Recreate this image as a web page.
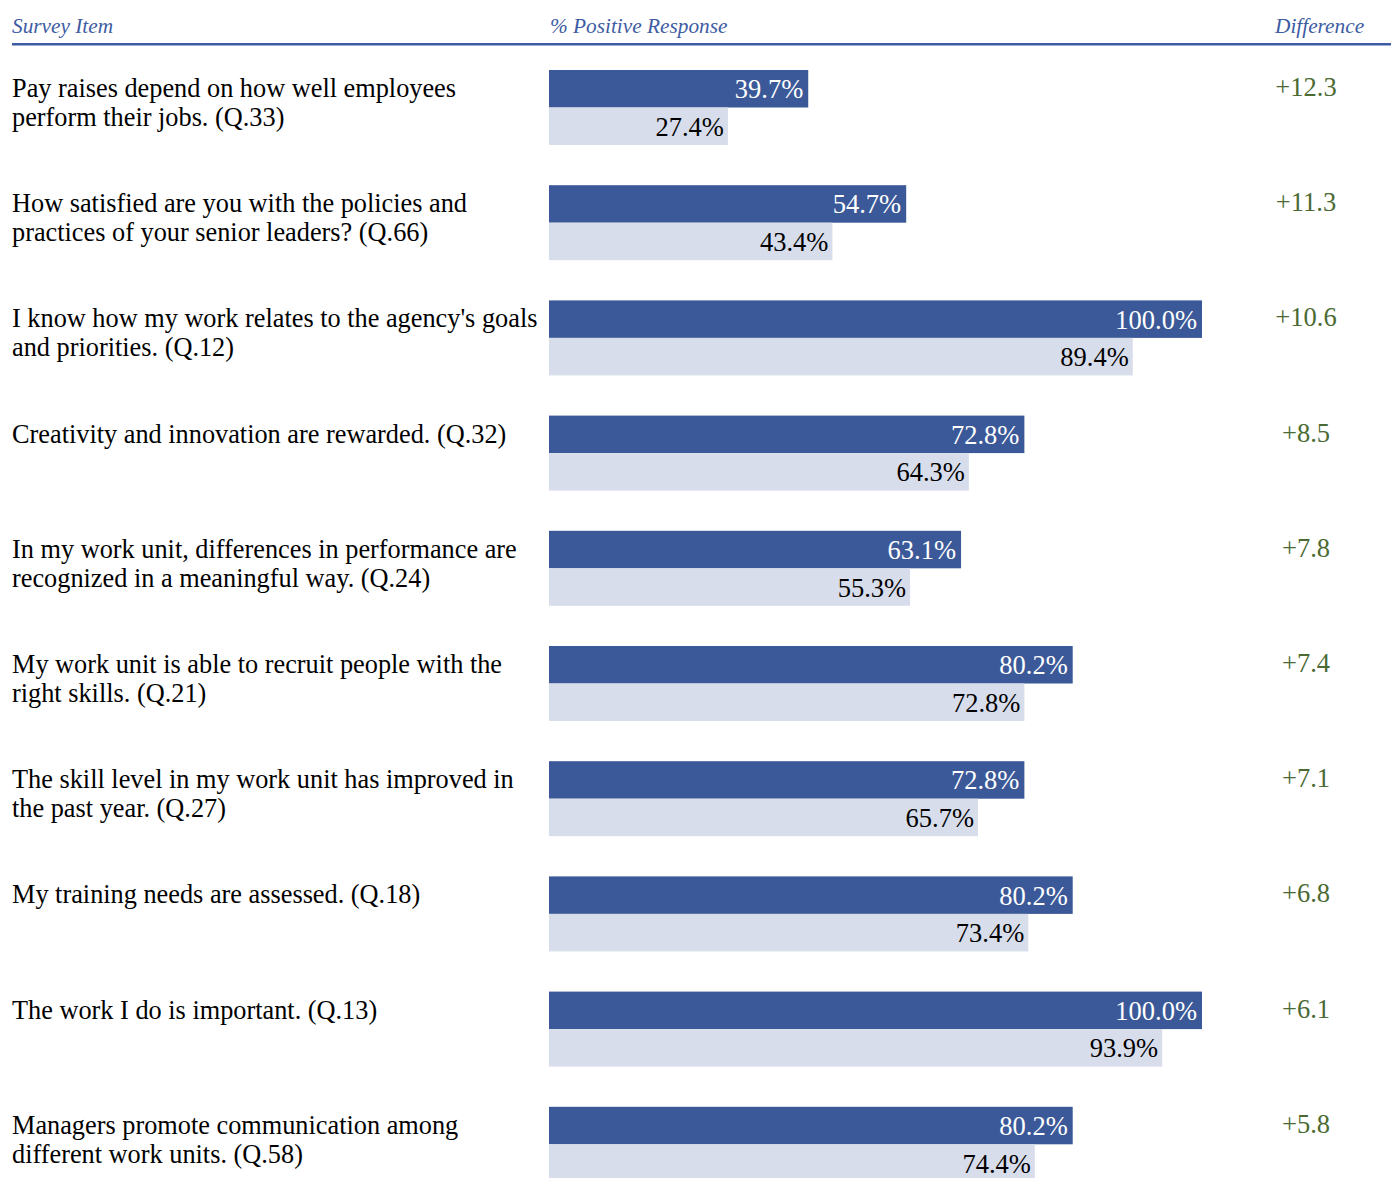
<!DOCTYPE html>
<html>
<head>
<meta charset="utf-8">
<script src="https://cdn.jsdelivr.net/npm/d3@7"></script>
<style>
  body { margin: 0; background: #fff; }
  svg { display: block; font-family: 'Liberation Serif', 'Times New Roman', serif; }
</style>
</head>
<body>
<div id="chart"></div>
<script>
const items = [
  "Pay raises depend on how well employees perform their jobs. (Q.33)",
  "How satisfied are you with the policies and practices of your senior leaders? (Q.66)",
  "I know how my work relates to the agency's goals and priorities. (Q.12)",
  "Creativity and innovation are rewarded. (Q.32)",
  "In my work unit, differences in performance are recognized in a meaningful way. (Q.24)",
  "My work unit is able to recruit people with the right skills. (Q.21)",
  "The skill level in my work unit has improved in the past year. (Q.27)",
  "My training needs are assessed. (Q.18)",
  "The work I do is important. (Q.13)",
  "Managers promote communication among different work units. (Q.58)"
]
const current = [39.7, 54.7, 100.0, 72.8, 63.1, 80.2, 72.8, 80.2, 100.0, 80.2]
const comparison = [27.4, 43.4, 89.4, 64.3, 55.3, 72.8, 65.7, 73.4, 93.9, 74.4]
const differences = ['+12.3', '+11.3', '+10.6', '+8.5', '+7.8', '+7.4', '+7.1', '+6.8', '+6.1', '+5.8']
const headers = ['Survey Item', '% Positive Response', 'Difference']

const width = 1391
const height = 1178
const barLeft = 549
const barH = 37.5
const labelWidth = 532

const darkBlue = '#3b5998'
const lightBlue = '#d7ddeb'
const headerBlue = '#3d5ca3'
const green = '#4b6a33'

const svg = d3
  .select('#chart')
  .append('svg')
  .attr('width', width)
  .attr('height', height)

const x = d3
  .scaleLinear()
  .domain([0, 100])
  .range([barLeft, 1202])

const y = d3
  .scaleBand()
  .domain(d3.range(items.length))
  .range([70, 70 + 115.2 * items.length])

// header
svg
  .append('rect')
  .attr('x', 12)
  .attr('y', 43)
  .attr('width', width - 12)
  .attr('height', 2.5)
  .attr('fill', headerBlue)

const headerX = [12, 550, 1275]
svg
  .selectAll('.header')
  .data(headers)
  .enter()
  .append('text')
  .attr('class', 'header')
  .attr('x', (d, i) => headerX[i])
  .attr('y', 33)
  .attr('fill', headerBlue)
  .style('font-style', 'italic')
  .style('font-size', '21.3px')
  .text(d => d)

const rows = svg
  .selectAll('.row')
  .data(items)
  .enter()
  .append('g')
  .attr('class', 'row')
  .attr('transform', (d, i) => `translate(0,${y(i)})`)

// survey item text, wrapped
rows.each(function(d) {
  const text = d3
    .select(this)
    .append('text')
    .attr('x', 12)
    .attr('y', 27)
    .attr('fill', '#000')
    .style('font-size', '26.3px')
  const words = d.split(' ')
  let line = []
  let tspan = text.append('tspan').attr('x', 12).attr('dy', 0)
  words.forEach(w => {
    line.push(w)
    tspan.text(line.join(' '))
    if (tspan.node().getComputedTextLength() > labelWidth && line.length > 1) {
      line.pop()
      tspan.text(line.join(' '))
      line = [w]
      tspan = text.append('tspan').attr('x', 12).attr('dy', 29).text(w)
    }
  })
})

rows
  .append('rect')
  .attr('x', barLeft)
  .attr('y', 0)
  .attr('width', (d, i) => x(current[i]) - barLeft)
  .attr('height', barH)
  .attr('fill', darkBlue)

rows
  .append('rect')
  .attr('x', barLeft)
  .attr('y', barH)
  .attr('width', (d, i) => x(comparison[i]) - barLeft)
  .attr('height', barH)
  .attr('fill', lightBlue)

rows
  .append('text')
  .attr('x', (d, i) => x(current[i]) - 5)
  .attr('y', barH / 2 + 9.5)
  .attr('text-anchor', 'end')
  .attr('fill', '#fff')
  .style('font-size', '26.5px')
  .text((d, i) => current[i].toFixed(1) + '%')

rows
  .append('text')
  .attr('x', (d, i) => x(comparison[i]) - 4)
  .attr('y', barH * 1.5 + 9.5)
  .attr('text-anchor', 'end')
  .attr('fill', '#000')
  .style('font-size', '26.5px')
  .text((d, i) => comparison[i].toFixed(1) + '%')

rows
  .append('text')
  .attr('x', 1306)
  .attr('y', 26)
  .attr('text-anchor', 'middle')
  .attr('fill', green)
  .style('font-size', '26.5px')
  .text((d, i) => differences[i])
</script>
</body>
</html>
